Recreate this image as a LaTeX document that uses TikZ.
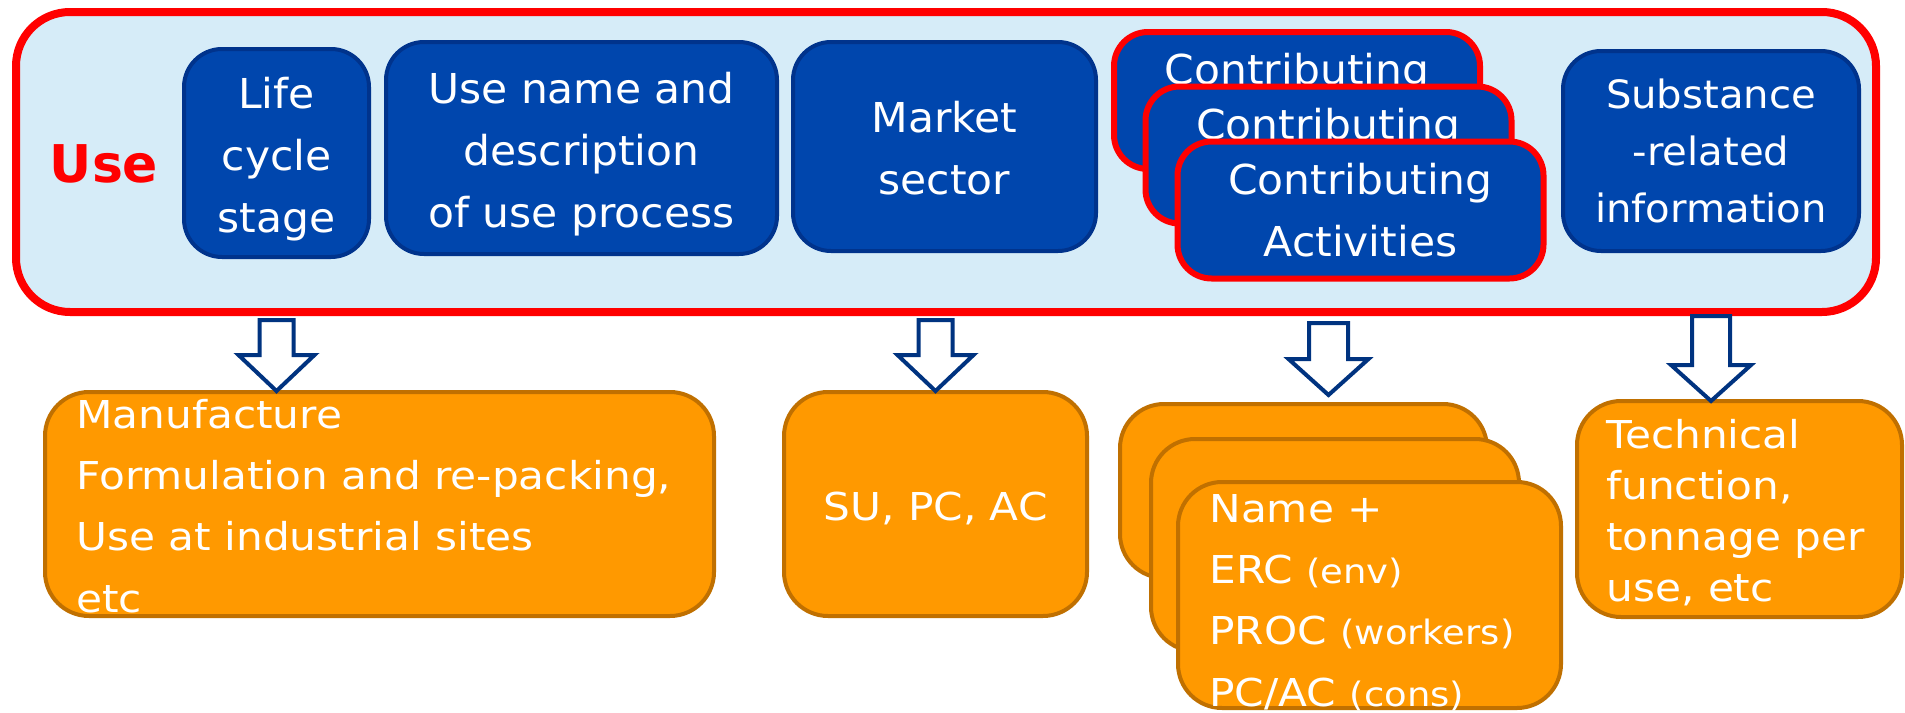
\documentclass[tikz,border=0pt]{standalone}
\usepackage{fontspec}
\setmainfont{DejaVu Sans}
\newfontfamily\topfont{DejaVu Sans}[FakeStretch=1.03]
\newfontfamily\botfont{DejaVu Sans}[FakeStretch=1.1]
\definecolor{outerfill}{RGB}{214,236,248}
\definecolor{boxblue}{RGB}{0,70,173}
\definecolor{boxblueborder}{RGB}{0,51,140}
\definecolor{orangefill}{RGB}{255,153,0}
\definecolor{orangeborder}{RGB}{192,112,0}
\definecolor{arrowblue}{RGB}{0,51,128}
\newcommand\smallpar[1]{{\fontsize{16.8}{30.6}\selectfont #1}}
\newcommand\blockarrow[6]{\draw[blockarr] (#1) ++(0,#2) ++(-#4,0) -- ++(0,#3) -- ++(-#5,0) -- ++(#4+#5,#6) -- ++(#4+#5,-#6) -- ++(-#5,0) -- ++(0,-#3) -- cycle;}
\tikzset{
 outerbox/.style={draw=red, line width=4pt, fill=outerfill, rounded corners=27pt, inner sep=0},
 bluebox/.style={draw=boxblueborder, line width=2pt, fill=boxblue, rounded corners=19pt, inner sep=0},
 contribbox/.style={draw=red, line width=3pt, fill=boxblue, rounded corners=17pt, inner sep=0,
   minimum width=183pt, minimum height=68.5pt, text=white, align=center, font=\topfont\fontsize{20.6}{31}\selectfont},
 orangebox/.style={draw=orangeborder, line width=2pt, fill=orangefill, rounded corners=22pt, inner sep=0},
 toptext/.style={text=white, align=center, inner sep=0, font=\topfont\fontsize{20.6}{31}\selectfont},
 bottext/.style={text=white, align=left, inner sep=0, font=\botfont\fontsize{19.2}{30.6}\selectfont},
 blockarr/.style={draw=arrowblue, line width=2pt, fill=white, line join=miter},
}
\begin{document}
\begin{tikzpicture}[x=0.5pt, y=-0.5pt]
\useasboundingbox (0,0) rectangle (1905,712);
% outer use box
\node[outerbox, minimum width=930pt, minimum height=150pt] (outer) at (946,162) {};
\node[text=red, font=\fontsize{26}{30}\selectfont\bfseries, inner sep=0] (use) at (104,164) {Use};
% blue boxes
\node[bluebox, minimum width=92.5pt, minimum height=104pt] (life) at (276.5,153) {};
\node[toptext] (life-t) at ([yshift=-3.25pt]life.center) {Life\\cycle\\stage};
\node[bluebox, minimum width=195.5pt, minimum height=106pt] (usename) at (581.5,148) {};
\node[toptext] (usename-t) at ([yshift=-3pt]usename.center) {Use name and\\description\\of use process};
\node[bluebox, minimum width=151.5pt, minimum height=104.5pt] (market) at (944.5,146.5) {};
\node[toptext] (market-t) at ([yshift=-0.75pt]market.center) {Market\\sector};
\node[contribbox] (contrib1) at (1297,100.5) {Contributing\\Activities};
\node[contribbox] (contrib2) at (1328.5,155) {Contributing\\Activities};
\node[contribbox] (contrib3) at (1360.5,210) {Contributing\\Activities};
\node[bluebox, minimum width=148pt, minimum height=100pt] (subst) at (1711,151) {};
\node[toptext, font=\topfont\fontsize{19.5}{28.5}\selectfont] (subst-t) at (subst.center) {Substance\\-related\\information};
% orange boxes
\node[orangebox, minimum width=334.5pt, minimum height=112pt] (manuf) at (379.5,504) {};
\node[bottext, anchor=north west] (manuf-t) at (76,399) {Manufacture\\Formulation and re-packing,\\Use at industrial sites\\etc};
\node[orangebox, minimum width=151.5pt, minimum height=112pt] (su) at (935.5,504) {};
\node[bottext, align=center] (su-t) at ([yshift=-2.25pt]su.center) {SU, PC, AC};
\node[orangebox, minimum width=183.5pt, minimum height=87pt] (stack1) at (1303.5,491) {};
\node[orangebox, minimum width=184pt, minimum height=106pt] (stack2) at (1335,545) {};
\node[orangebox, minimum width=191.5pt, minimum height=113pt] (stack3) at (1369.5,595) {};
\node[bottext, anchor=north west] (stack3-t) at (1209,494) {Name +\\ERC \smallpar{(env)}\\PROC \smallpar{(workers)}\\PC/AC \smallpar{(cons)}};
\node[orangebox, minimum width=162.5pt, minimum height=108pt] (tech) at (1739.5,509) {};
\node[bottext, anchor=north west, font=\botfont\fontsize{19.2}{25.5}\selectfont] (tech-t) at (1606,419) {Technical\\function,\\tonnage per\\use, etc};
% block arrows
\blockarrow{life.center |- outer.south}{4}{35}{17}{21}{36}
\blockarrow{su.center |- outer.south}{4}{35}{17}{21}{36}
\blockarrow{contrib2.center |- outer.south}{7}{36}{19.5}{20.5}{36}
\blockarrow{subst.center |- outer.south}{0}{49}{19}{21}{36}
\end{tikzpicture}
\end{document}
